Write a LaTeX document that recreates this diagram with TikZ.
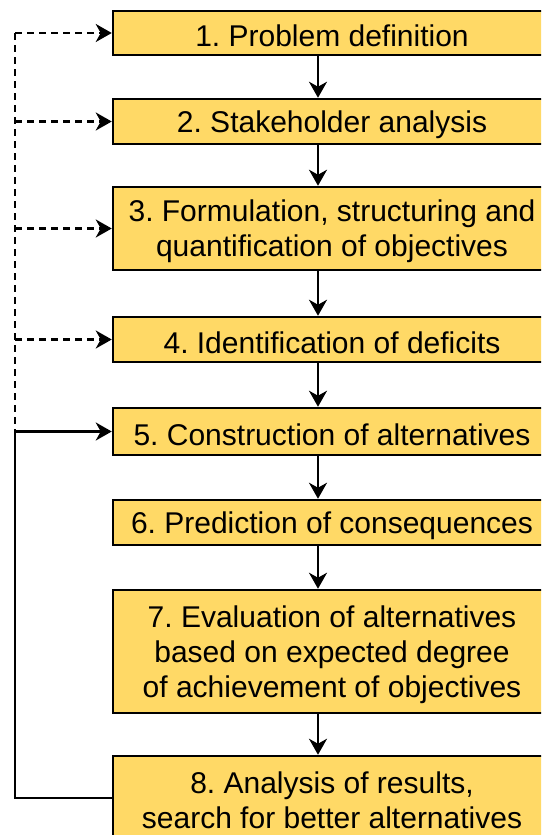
\documentclass[tikz,border=0pt]{standalone}
\usepackage{fontspec}
\setmainfont{Liberation Sans}
\usetikzlibrary{arrows.meta}
\definecolor{boxyellow}{HTML}{FFD966}
\begin{document}
\begin{tikzpicture}[x=1pt,y=-1pt,
  box/.style={draw=black, line width=2.5pt, fill=boxyellow, minimum width=438pt, inner sep=0pt},
  txt/.style={font=\fontsize{30}{35}\selectfont\frenchspacing, align=center, inner sep=0pt, yshift=-3pt},
  tip/.style={-{Stealth[length=16pt,width=18pt,inset=5pt]}},
  flow/.style={line width=2.5pt, tip},
  fb/.style={line width=2.5pt, dash pattern=on 7pt off 5pt},
  fbarrow/.style={fb, tip},
  loop/.style={line width=2.5pt}]
\useasboundingbox (0,0) rectangle (541,835);
\clip (0,0) rectangle (541,835);
\node[box, minimum height=44pt, label={[txt]center:1. Problem definition}] (b1) at (332,33) {};
\node[box, minimum height=45pt, label={[txt]center:2. Stakeholder analysis}] (b2) at (332,121.5) {};
\node[box, minimum height=83pt, label={[txt]center:3. Formulation, structuring and\\quantification of objectives}] (b3) at (332,228.5) {};
\node[box, minimum height=45pt, label={[txt]center:4. Identification of deficits}] (b4) at (332,339.5) {};
\node[box, minimum height=47pt, label={[txt]center:5. Construction of alternatives}] (b5) at (332,431.5) {};
\node[box, minimum height=45pt, label={[txt]center:6. Prediction of consequences}] (b6) at (332,522.5) {};
\node[box, minimum height=123pt, label={[txt]center:7. Evaluation of alternatives\\based on expected degree\\of achievement of objectives}] (b7) at (332,651.5) {};
\node[box, minimum height=84pt, label={[txt, yshift=1pt]center:8. Analysis of results,\\search for better alternatives}] (b8) at (332,798) {};
\coordinate (ax) at (318,0);
\coordinate (L) at (15,0);
\foreach \a/\b in {b1/b2,b2/b3,b3/b4,b4/b5,b5/b6,b6/b7,b7/b8}
  \draw[flow] (\a.south -| ax) -- (\b.north -| ax);
\draw[fb] (b1.west -| L) -- (b5.west -| L);
\foreach \t in {b1,b2,b3,b4}
  \draw[fbarrow] (\t.west -| L) -- (\t.west);
\draw[loop] (b8.west) -- (b8.west -| L) -- (b5.west -| L);
\draw[flow] (b5.west -| L) -- (b5.west);
\end{tikzpicture}
\end{document}
